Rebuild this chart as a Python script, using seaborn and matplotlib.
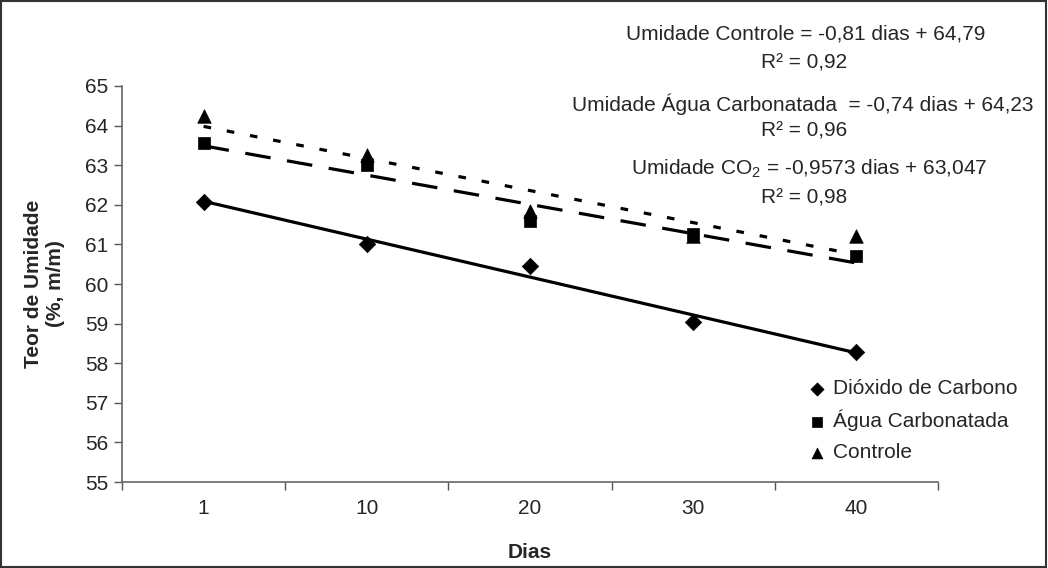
import matplotlib
matplotlib.use("Agg")
import matplotlib.pyplot as plt
import numpy as np
import pandas as pd
import seaborn as sns
from matplotlib.patches import Rectangle

sns.set_theme(style="white")
plt.rcParams["font.family"] = ["Liberation Sans", "DejaVu Sans"]
plt.rcParams["mathtext.fontset"] = "custom"
plt.rcParams["mathtext.rm"] = "Liberation Sans"
plt.rcParams["mathtext.it"] = "Liberation Sans"
plt.rcParams["mathtext.default"] = "regular"
plt.rcParams["lines.scale_dashes"] = False

FS = 15

# Sampling days (categorical axis) and moisture content per treatment
dias = ["1", "10", "20", "30", "40"]
dioxido_carbono = [62.08, 61.00, 60.45, 59.05, 58.28]
agua_carbonatada = [63.55, 63.00, 61.60, 61.25, 60.70]
controle = [64.25, 63.25, 61.85, 61.20, 61.20]

# Linear trendlines (x = category index 1..5)
trend_co2 = (-0.9573, 63.047)
trend_agua = (-0.74, 64.23)
trend_controle = (-0.81, 64.79)

series_names = ["Dióxido de Carbono", "Água Carbonatada", "Controle"]
series_values = [dioxido_carbono, agua_carbonatada, controle]
trends = [trend_co2, trend_agua, trend_controle]
markers = ["D", "s", "^"]
marker_sizes = [70, 75, 95]
line_dashes = [None, (18.5, 12), (5.5, 11.5)]

idx = np.arange(1, len(dias) + 1)
rows = []
for name, vals in zip(series_names, series_values):
    for i, v in zip(idx, vals):
        rows.append({"idx": i, "valor": v, "serie": name})
df = pd.DataFrame(rows)

fig = plt.figure(figsize=(10.48, 5.68), dpi=100)
ax = fig.add_axes([0.1164, 0.1514, 0.7786, 0.6972])

# trendlines
for (slope, intercept), dash in zip(trends, line_dashes):
    tdf = pd.DataFrame({"idx": idx, "valor": slope * idx + intercept})
    sns.lineplot(data=tdf, x="idx", y="valor", ax=ax, color="black",
                 lw=2.3, legend=False)
    l = ax.lines[-1]
    if dash is not None:
        l.set_dashes(dash)
        l.set_dash_capstyle("butt")

# points
for name, mk, ms in zip(series_names, markers, marker_sizes):
    sub = df[df["serie"] == name]
    sns.scatterplot(data=sub, x="idx", y="valor", ax=ax, marker=mk, s=ms,
                    color="black", edgecolor="black", linewidth=0.5,
                    label=name, zorder=5)

ax.set_xlim(0.5, 5.5)
ax.set_ylim(55, 65)
ax.set_yticks(np.arange(55, 66, 1))
ax.set_xticks(idx)
ax.set_xticklabels(dias)
ax.set_xticks(np.arange(0.5, 5.6, 1), minor=True)
ax.tick_params(axis="x", which="major", length=0, pad=12, labelsize=FS)
ax.tick_params(axis="x", which="minor", length=6, width=1, color="#555555",
               direction="out", bottom=True)
ax.tick_params(axis="y", which="major", length=6, width=1, color="#555555",
               direction="out", left=True, labelsize=FS, pad=4)
for s in ["top", "right"]:
    ax.spines[s].set_visible(False)
for s in ["left", "bottom"]:
    ax.spines[s].set_color("#666666")
    ax.spines[s].set_linewidth(1.2)
ax.grid(False)

ax.set_xlabel("Dias", fontsize=FS, fontweight="bold", labelpad=18)
ax.set_ylabel("Teor de Umidade\n(%, m/m)", fontsize=FS, fontweight="bold",
              labelpad=14, linespacing=1.25)

leg = ax.legend(loc="upper left", bbox_to_anchor=(0.763, 0.347),
                bbox_transform=fig.transFigure, frameon=False, fontsize=FS,
                handletextpad=0.3, labelspacing=0.56, borderaxespad=0,
                handlelength=0.9, markerscale=0.8)

# regression equations
eq_texts = [
    ("Umidade Controle = -0,81 dias + 64,79", 0.769, 34),
    ("R² = 0,92", 0.767, 63),
    ("Umidade Água Carbonatada  = -0,74 dias + 64,23", 0.766, 104),
    ("R² = 0,96", 0.767, 131),
    ("Umidade CO$_2$ = -0,9573 dias + 63,047", 0.772, 169),
    ("R² = 0,98", 0.767, 198),
]
for txt, xf, ypx in eq_texts:
    fig.text(xf, 1 - ypx / 568, txt, ha="center", va="center", fontsize=FS)

# outer frame
fig.patches.append(Rectangle((0.001, 0.002), 0.997, 0.996, transform=fig.transFigure,
                             fill=False, edgecolor="#333333", lw=1.5))

fig.savefig("out.png", dpi=100)
